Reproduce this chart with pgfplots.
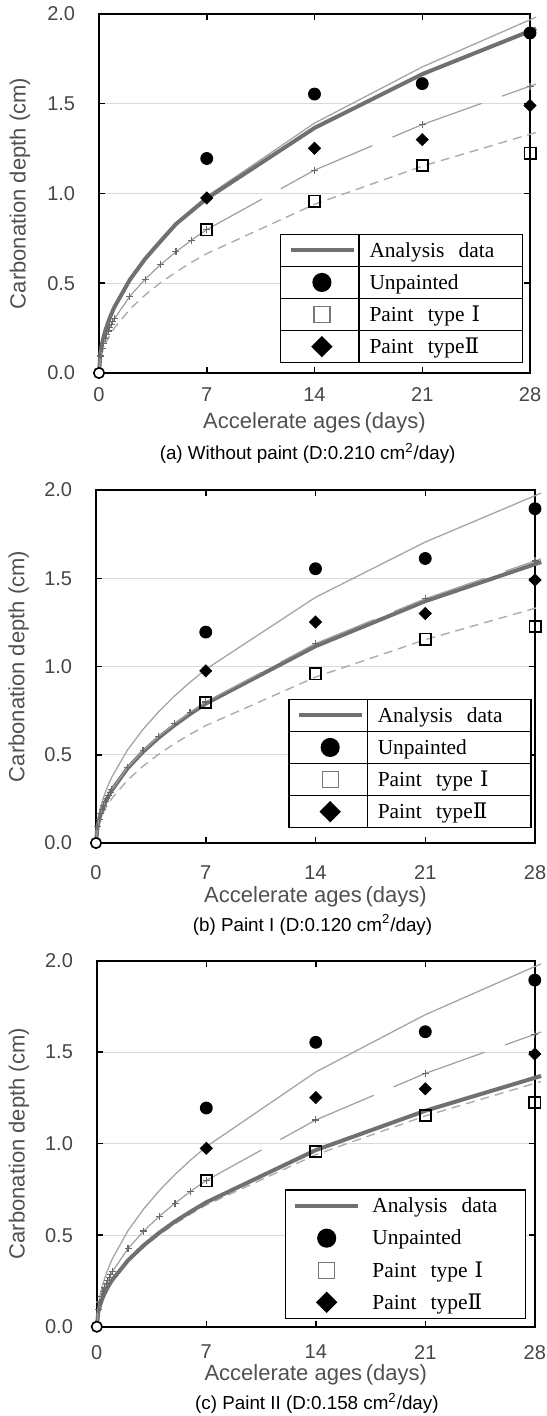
\documentclass[border=0pt]{standalone}
\usepackage{fontspec}
\setmainfont{Liberation Sans}
\newfontfamily\legserif{Liberation Serif}
\newfontfamily\romfont{DejaVu Serif}
\usepackage{pgfplots}
\usepackage{pgfplotstable}
\pgfplotsset{compat=1.18}

\definecolor{thincol}{RGB}{165,165,165}
\definecolor{dashcol}{RGB}{172,172,172}
\definecolor{thickcol}{RGB}{112,112,112}
\definecolor{pluslinecol}{RGB}{158,158,158}
\definecolor{plusmarkcol}{RGB}{105,105,105}
\definecolor{gridcol}{RGB}{218,218,218}
\definecolor{tickcol}{RGB}{70,70,70}
\definecolor{labcol}{RGB}{80,80,80}
\definecolor{legsqcol}{RGB}{120,120,120}

\pgfplotstableread{
t d
0 0
0.1 0.118
0.2 0.166
0.3 0.204
0.4 0.235
0.5 0.263
0.6 0.288
0.7 0.311
0.8 0.333
0.9 0.353
1 0.372
2 0.526
3 0.644
4 0.744
5 0.832
6 0.911
7 0.984
14 1.392
21 1.705
28 1.968
28.4 1.983
}\tthin
\pgfplotstableread{
t d
0 0
0.1 0.095
0.2 0.135
0.3 0.165
0.4 0.191
0.5 0.214
0.6 0.234
0.7 0.253
0.8 0.270
0.9 0.287
1 0.302
2 0.427
3 0.523
4 0.604
5 0.675
6 0.740
7 0.799
14 1.130
21 1.384
28 1.598
28.4 1.610
}\tplus
\pgfplotstableread{
t d
0 0
0.1 0.079
0.2 0.112
0.3 0.138
0.4 0.159
0.5 0.178
0.6 0.195
0.7 0.210
0.8 0.225
0.9 0.238
1 0.251
2 0.355
3 0.435
4 0.503
5 0.562
6 0.616
7 0.665
14 0.940
21 1.152
28 1.330
28.4 1.340
}\tdash
\pgfplotstableread{
t d
0 0
0.1 0.116
0.2 0.164
0.3 0.201
0.4 0.232
0.5 0.259
0.6 0.284
0.7 0.307
0.8 0.328
0.9 0.348
1 0.367
2 0.519
3 0.636
4 0.734
5 0.830
7 0.972
14 1.365
21 1.665
28 1.905
28.4 1.919
}\tthickA
\pgfplotstableread{
t d
0 0
0.1 0.094
0.2 0.133
0.3 0.163
0.4 0.189
0.5 0.211
0.6 0.231
0.7 0.250
0.8 0.267
0.9 0.283
1 0.298
2 0.422
3 0.517
4 0.597
5 0.667
6 0.731
7 0.790
14 1.115
21 1.370
28 1.580
28.4 1.592
}\tthickB
\pgfplotstableread{
t d
0 0
0.1 0.081
0.2 0.115
0.3 0.141
0.4 0.163
0.5 0.182
0.6 0.199
0.7 0.215
0.8 0.230
0.9 0.244
1 0.257
2 0.363
3 0.445
4 0.514
5 0.575
6 0.629
7 0.680
14 0.965
21 1.180
28 1.360
28.4 1.370
}\tthickC
\pgfplotstableread{
t d
7 1.195
14 1.554
21 1.612
28 1.894
}\tunp
\pgfplotstableread{
t d
7 0.797
14 0.958
21 1.155
28 1.225
}\tpone
\pgfplotstableread{
t d
7 0.975
14 1.252
21 1.300
28 1.490
}\tptwo
\pgfplotstableread{
t d
0 0
}\torig

\pgfplotsset{
  legline/.style={legend image code/.code={\path (0pt,-5pt) (39.2pt,5pt); \draw[##1] (4pt,0pt) -- (35.5pt,0pt);}},
  legmark/.style={legend image code/.code={\path (0pt,-5pt) (39.2pt,5pt); \draw[##1, mark size=#1] plot coordinates {(19.6pt,0pt)};}},
  legsq/.style={legend image code/.code={\path (0pt,-5pt) (39.2pt,5pt); \draw[##1, mark size=4pt, mark options={draw=legsqcol, line width=0.6pt}] plot coordinates {(19.6pt,0pt)};}},
  panel/.style={
    scale only axis, anchor=south west,
    xmin=0, xmax=28, ymin=0, ymax=2,
    xtick={0,7,14,21,28}, ytick={0,0.5,1,1.5,2},
    tick align=inside, major tick length=3pt,
    tick style={black, line width=0.75pt},
    axis line style={black, line width=0.8pt},
    ymajorgrids, grid style={gridcol, line width=0.6pt},
    clip=false,
    /pgf/number format/assume math mode=true,
    yticklabel style={/pgf/number format/fixed, /pgf/number format/fixed zerofill, /pgf/number format/precision=1,
      anchor=east, inner sep=0pt, xshift=-11.75pt, font=\fontsize{10}{12}\selectfont, text=tickcol},
    xticklabel style={anchor=north, inner sep=0pt, font=\fontsize{10}{12}\selectfont, text=tickcol},
    xlabel={Accelerate ages\,(days)}, ylabel={Carbonation depth (cm)},
    label style={font=\fontsize{11}{13}\selectfont, text=labcol},
    legend cell align=left,
    legend style={draw=black, line width=0.75pt, fill=white, inner sep=0pt, outer sep=0pt,
      row sep=0pt, column sep=3.2pt, anchor=north west,
      font=\fontsize{10.7}{12}\legserif,
      nodes={inner sep=0pt, text height=11.425pt, text depth=4.625pt, text width=76.6pt, align=left}},
  },
}

\newcommand\panelplots[1]{%
  \addplot[thincol, line width=0.65pt, forget plot] table {\tthin};
  \addplot[dashcol, line width=0.7pt, dash pattern=on 4.5pt off 3pt, forget plot] table {\tdash};
  \addplot[thickcol, line width=2pt, legline] table {#1};
  \addplot[pluslinecol, line width=0.6pt, forget plot, restrict x to domain=0:7] table {\tplus};
  \addplot[pluslinecol, line width=0.6pt, dash pattern=on 31.5pt off 10.8pt, forget plot, restrict x to domain=7:14] table {\tplus};
  \addplot[pluslinecol, line width=0.6pt, dash pattern=on 31.5pt off 10.8pt, forget plot, restrict x to domain=14:21] table {\tplus};
  \addplot[pluslinecol, line width=0.6pt, dash pattern=on 31.5pt off 10.8pt, forget plot, restrict x to domain=21:28.5] table {\tplus};
  \addplot[only marks, mark=+, mark size=1.75pt, mark options={plusmarkcol, line width=0.6pt}, forget plot, restrict x to domain=0.05:28.1] table {\tplus};
  \addplot[only marks, mark=*, mark size=3pt, black, legmark=4.4pt] table {\tunp};
  \addplot[only marks, mark=square, mark size=2.8pt, black, line width=0.9pt, legsq] table {\tpone};
  \addplot[only marks, mark=square*, mark size=2.12pt, black, mark options={rotate=45}, legmark=3.4pt] table {\tptwo};
  \addplot[only marks, mark=*, mark size=2.6pt, mark options={fill=white, draw=black, line width=0.8pt}, forget plot] table {\torig};
  \legend{Analysis\ \ data, Unpainted, Paint\ \ type\ {\romfont Ⅰ}, Paint\ \ type{\romfont Ⅱ}}
}

\begin{document}
\begin{tikzpicture}
\path[use as bounding box] (0,0) rectangle (273pt,-708pt);

% (a)
\begin{axis}[panel, at={(49.5pt,-186.5pt)}, width=215.5pt, height=179.5pt,
  xticklabel style={yshift=-7pt},
  xlabel style={at={(axis description cs:0.5,-0.139)}, anchor=center},
  ylabel style={at={(axis description cs:-0.1833,0.5)}, anchor=center},
  legend style={at={(0.4216,0.3864)}, name=legA}]
  \panelplots{\tthickA}
\end{axis}
\draw[line width=0.75pt] ([xshift=39.2pt]legA.north west) -- ([xshift=39.2pt]legA.south west);
\foreach \k in {1,2,3} {\draw[line width=0.75pt] ([yshift=-\k*16.05pt]legA.north west) -- ([yshift=-\k*16.05pt]legA.north east);}
\node[font=\fontsize{9.4}{11}\selectfont] at (153.8pt,-226.65pt) {(a) Without paint (D:0.210 cm\textsuperscript{2}/day)};

% (b)
\begin{axis}[panel, at={(48pt,-421.5pt)}, width=219.5pt, height=176.5pt,
  xticklabel style={yshift=-11pt},
  xlabel style={at={(axis description cs:0.5,-0.152)}, anchor=center},
  ylabel style={at={(axis description cs:-0.1759,0.5)}, anchor=center},
  legend style={at={(0.4396,0.4071)}, name=legB}]
  \panelplots{\tthickB}
\end{axis}
\draw[line width=0.75pt] ([xshift=39.2pt]legB.north west) -- ([xshift=39.2pt]legB.south west);
\foreach \k in {1,2,3} {\draw[line width=0.75pt] ([yshift=-\k*16.05pt]legB.north west) -- ([yshift=-\k*16.05pt]legB.north east);}
\node[font=\fontsize{9.4}{11}\selectfont] at (156.25pt,-462.5pt) {(b) Paint I (D:0.120 cm\textsuperscript{2}/day)};

% (c)
\begin{axis}[panel, at={(48.4pt,-663.35pt)}, width=219pt, height=183pt,
  xticklabel style={yshift=-9pt},
  xlabel style={at={(axis description cs:0.5,-0.132)}, anchor=center},
  ylabel style={at={(axis description cs:-0.178,0.5)}, anchor=center},
  legend style={at={(0.4308,0.3735)}, column sep=2.3pt, name=legC}]
  \panelplots{\tthickC}
\end{axis}
\node[font=\fontsize{9.4}{11}\selectfont] at (158.45pt,-701.65pt) {(c) Paint II (D:0.158 cm\textsuperscript{2}/day)};
\end{tikzpicture}
\end{document}
